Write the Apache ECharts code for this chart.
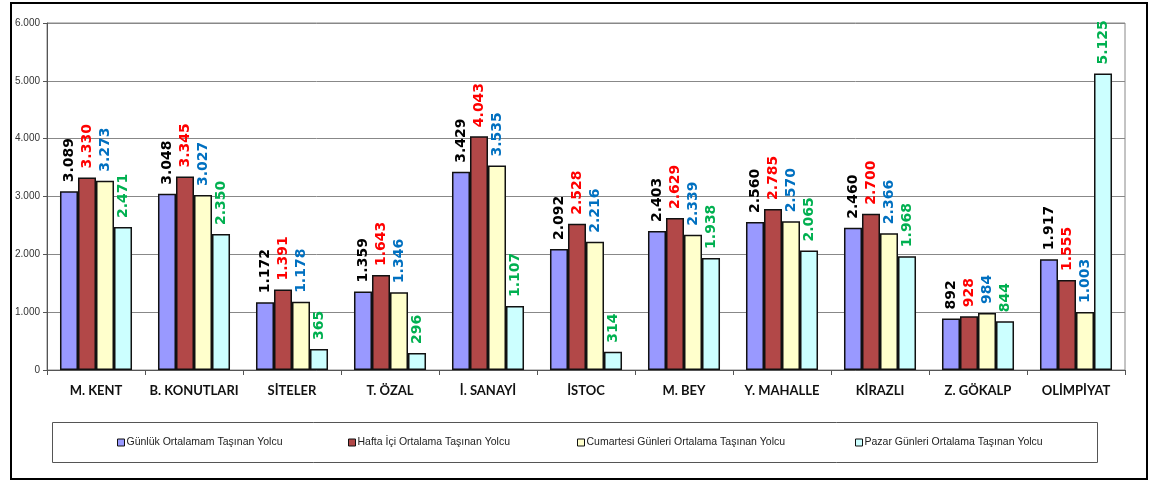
<!DOCTYPE html>
<html>
<head>
<meta charset="utf-8">
<script src="https://cdn.jsdelivr.net/npm/echarts@6/dist/echarts.min.js"></script>
<style>
  html, body { margin: 0; padding: 0; background: #fff; }
  #chart { width: 1153px; height: 481px; }
</style>
</head>
<body>
<div id="chart"></div>
<script>
const categories = ['M. KENT', 'B. KONUTLARI', 'SİTELER', 'T. ÖZAL', 'İ. SANAYİ', 'İSTOC', 'M. BEY', 'Y. MAHALLE', 'KİRAZLI', 'Z. GÖKALP', 'OLİMPİYAT'];
const seriesNames = ['Günlük Ortalamam Taşınan Yolcu', 'Hafta İçi Ortalama Taşınan Yolcu', 'Cumartesi Günleri Ortalama Taşınan Yolcu', 'Pazar Günleri Ortalama Taşınan Yolcu'];
const gunluk    = [3089, 3048, 1172, 1359, 3429, 2092, 2403, 2560, 2460, 892, 1917];
const haftaIci  = [3330, 3345, 1391, 1643, 4043, 2528, 2629, 2785, 2700, 928, 1555];
const cumartesi = [3273, 3027, 1178, 1346, 3535, 2216, 2339, 2570, 2366, 984, 1003];
const pazar     = [2471, 2350, 365, 296, 1107, 314, 1938, 2065, 1968, 844, 5125];
const yTicks = [0, 1000, 2000, 3000, 4000, 5000, 6000];

const values = [gunluk, haftaIci, cumartesi, pazar];
const barColors = ['#9999FF', '#B24848', '#FFFFCC', '#CCFFFF'];
const labelColors = ['#000000', '#FF0000', '#0070C0', '#00B050'];
const legendLefts = [117, 348, 577, 855];

function fmt(v) {
  return String(v).replace(/\B(?=(\d{3})+(?!\d))/g, '.');
}

const chart = echarts.init(document.getElementById('chart'), null, { renderer: 'canvas' });

const series = values.map((arr, i) => ({
  name: seriesNames[i],
  type: 'bar',
  data: arr,
  barGap: '0%',
  barCategoryGap: '26.5%',
  itemStyle: { color: barColors[i], borderColor: '#111', borderWidth: 1.5 },
  label: {
    show: true,
    position: 'top',
    rotate: 90,
    align: 'left',
    verticalAlign: 'middle',
    distance: 9,
    color: labelColors[i],
    fontFamily: 'DejaVu Sans',
    fontWeight: 'bold',
    fontSize: 14,
    formatter: p => fmt(p.value)
  },
  emphasis: { disabled: true },
  animation: false
}));

const legends = seriesNames.map((n, i) => ({
  data: [n],
  left: legendLefts[i],
  top: 437,
  itemWidth: 7,
  itemHeight: 7,
  itemGap: 2,
  padding: 0,
  icon: 'rect',
  selectedMode: false,
  itemStyle: { borderColor: '#111', borderWidth: 1 },
  textStyle: { fontFamily: 'Liberation Sans', fontSize: 10.5, color: '#222', padding: [0, 0, 0, -3] }
}));

chart.setOption({
  animation: false,
  backgroundColor: '#ffffff',
  grid: { left: 47, right: 28, top: 23, bottom: 111, show: true, borderColor: '#888', borderWidth: 1 },
  legend: legends,
  xAxis: {
    type: 'category',
    data: categories,
    axisLine: { lineStyle: { color: '#555', width: 1 } },
    axisTick: { show: true, length: 5, lineStyle: { color: '#555' }, alignWithLabel: false },
    axisLabel: {
      interval: 0,
      margin: 14,
      fontFamily: 'Lato',
      fontWeight: 'bold',
      fontSize: 13,
      color: '#111'
    }
  },
  yAxis: {
    type: 'value',
    min: yTicks[0],
    max: yTicks[yTicks.length - 1],
    interval: 1000,
    axisLine: { show: true, lineStyle: { color: '#555', width: 1 } },
    axisTick: { show: true, length: 4, lineStyle: { color: '#555' } },
    splitLine: { lineStyle: { color: '#888', width: 1 } },
    axisLabel: {
      margin: 7,
      fontFamily: 'Liberation Sans',
      fontSize: 10,
      color: '#333',
      formatter: v => fmt(v)
    }
  },
  series: series,
  graphic: [
    { type: 'rect', shape: { x: 11, y: 3, width: 1136, height: 476 }, style: { fill: 'none', stroke: '#000', lineWidth: 2 }, silent: true, z: 100 },
    { type: 'rect', shape: { x: 52.5, y: 422.5, width: 1045, height: 40 }, style: { fill: 'none', stroke: '#555', lineWidth: 1 }, silent: true, z: 100 }
  ]
});
</script>
</body>
</html>
